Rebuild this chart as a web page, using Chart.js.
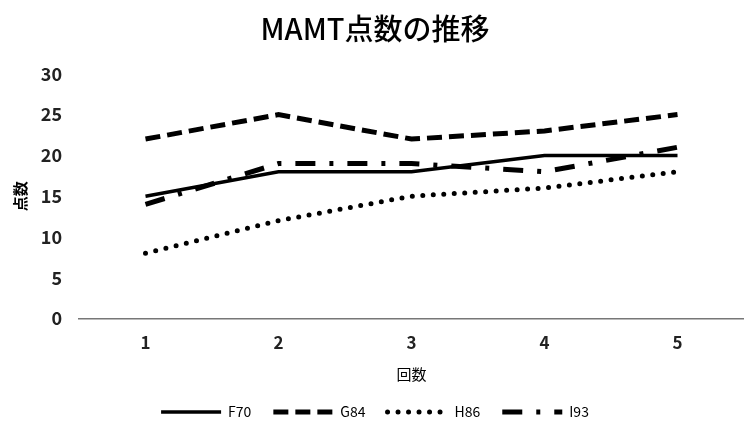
<!DOCTYPE html>
<html>
<head>
<meta charset="utf-8">
<script src="https://cdn.jsdelivr.net/npm/chart.js@4.4.0/dist/chart.umd.min.js"></script>
<style>
  html, body { margin: 0; padding: 0; background: #fff; }
  #wrap { width: 744px; height: 443px; }
</style>
</head>
<body>
<div id="wrap"><canvas id="lineChart" width="744" height="443"></canvas></div>
<script>
'use strict';

const rounds = ['1', '2', '3', '4', '5'];
const f70 = [15, 18, 18, 20, 20];
const g84 = [22, 25, 22, 23, 25];
const h86 = [8, 12, 15, 16, 18];
const i93 = [14, 19, 19, 18, 21];
const yTicks = [0, 5, 10, 15, 20, 25, 30];

const FONT = "'Noto Sans CJK JP', 'Noto Sans', sans-serif";

const CHART = document.getElementById('lineChart');

function series(label, values, width, dash, cap) {
    return {
        label: label,
        data: values,
        borderColor: '#000',
        backgroundColor: '#000',
        borderWidth: width,
        borderDash: dash,
        borderCapStyle: cap,
        pointRadius: 0,
        pointHoverRadius: 0,
        tension: 0,
        fill: false
    };
}

new Chart(CHART, {
    type: 'line',
    data: {
        labels: rounds,
        datasets: [
            series('F70', f70, 3.5, [], 'butt'),
            series('G84', g84, 5, [15, 7], 'butt'),
            series('H86', h86, 5, [0, 10.5], 'round'),
            series('I93', i93, 5, [20, 14, 4, 14], 'butt')
        ]
    },
    options: {
        responsive: false,
        animation: false,
        layout: { padding: { top: 7, right: 0, bottom: 14, left: 6 } },
        plugins: {
            title: {
                display: true,
                text: 'MAMT点数の推移',
                color: '#000',
                font: { family: FONT, size: 29, weight: '500' },
                padding: { top: 5, bottom: 27 }
            },
            legend: {
                position: 'bottom',
                labels: {
                    usePointStyle: true,
                    pointStyle: 'line',
                    pointStyleWidth: 60,
                    boxWidth: 60,
                    boxHeight: 8,
                    padding: 22,
                    color: '#000',
                    font: { family: FONT, size: 14 },
                    // legend samples keep each series' dash pattern
                    generateLabels: (chart) => chart.data.datasets.map((ds, i) => ({
                        text: ds.label,
                        fillStyle: '#000',
                        strokeStyle: '#000',
                        fontColor: '#000',
                        lineWidth: ds.borderWidth,
                        lineDash: ds.borderDash,
                        lineCap: ds.borderCapStyle,
                        pointStyle: 'line',
                        hidden: false,
                        datasetIndex: i
                    }))
                }
            },
            tooltip: { enabled: false }
        },
        scales: {
            x: {
                offset: true,
                grid: { display: false, drawTicks: false },
                border: { display: true, color: '#777', width: 1.5 },
                ticks: {
                    color: '#222',
                    padding: 14,
                    font: { family: FONT, size: 17, weight: '600' }
                },
                title: {
                    display: true,
                    text: '回数',
                    color: '#000',
                    font: { family: FONT, size: 15 },
                    padding: { top: -2, bottom: 0 }
                }
            },
            y: {
                min: 0,
                max: 30,
                afterBuildTicks: (axis) => {
                    axis.ticks = yTicks.map(v => ({ value: v }));
                },
                // fixed axis width so the plot starts where the reference does
                afterFit: (axis) => {
                    axis.width = 73;
                },
                grid: { display: false, drawTicks: false },
                border: { display: false },
                ticks: {
                    color: '#222',
                    padding: 17,
                    font: { family: FONT, size: 18, weight: '600' }
                },
                title: {
                    display: true,
                    text: '点数',
                    color: '#000',
                    font: { family: FONT, size: 15, weight: '600' },
                    padding: { top: 5, bottom: 10 }
                }
            }
        }
    }
});
</script>
</body>
</html>
